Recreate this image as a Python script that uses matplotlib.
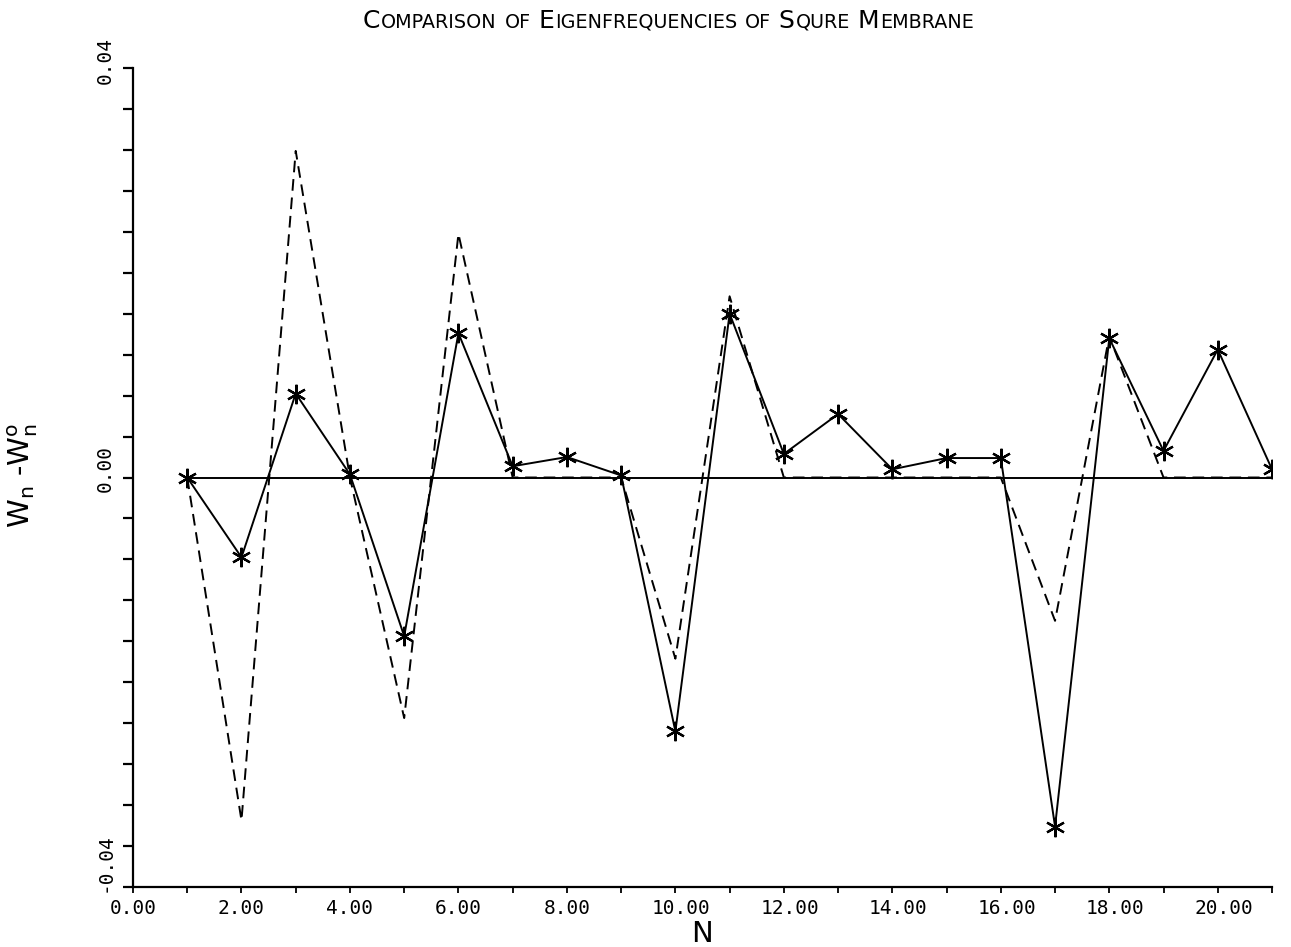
import numpy as np
import matplotlib
matplotlib.use("Agg")
import matplotlib.pyplot as plt
from matplotlib.ticker import MultipleLocator
from matplotlib.transforms import ScaledTranslation

# mode number
n = np.arange(1, 22)
# error of computed eigenfrequencies (solid, with stars)
err_solid = [0.0, -0.0078, 0.0082, 0.0003, -0.0155, 0.0141, 0.0011, 0.0020, 0.0002,
             -0.0248, 0.0160, 0.0023, 0.0062, 0.0008, 0.0019, 0.0019, -0.0341, 0.0136,
             0.0026, 0.0125, 0.0008]
# error of the second method (dashed)
err_dashed = [0.0, -0.0335, 0.0319, 0.0, -0.0235, 0.0238, 0.0, 0.0, 0.0,
              -0.0177, 0.0177, 0.0, 0.0, 0.0, 0.0, 0.0, -0.0140, 0.0138,
              0.0, 0.0, 0.0]
exact = [0.0] * 21

x_ticks = [0, 2, 4, 6, 8, 10, 12, 14, 16, 18, 20]
y_ticks = [-0.04, 0.0, 0.04]
title = "Comparison of Eigenfrequencies of Squre Membrane"

W, H = 1291, 947
fig = plt.figure(figsize=(W / 100, H / 100), dpi=100)
ax = fig.add_axes([133 / W, 1 - 887 / H, (1272 - 133) / W, (887 - 68) / H])

ax.plot(n, exact, color="black", lw=1.4)
ax.plot(n, err_dashed, color="black", lw=1.4, dashes=(6, 3.5))
ax.plot(n, err_solid, color="black", lw=1.4, marker=(6, 2, 0),
        markersize=14, markeredgewidth=1.6)

ax.set_xlim(0, 21)
ax.set_ylim(-0.04, 0.04)
for side in ("top", "right"):
    ax.spines[side].set_visible(False)
for side in ("left", "bottom"):
    ax.spines[side].set_linewidth(1.6)

mono = "DejaVu Sans Mono"
ax.set_xticks(x_ticks, [f"{v:.2f}" for v in x_ticks], family=mono, fontsize=14)
ax.xaxis.set_minor_locator(MultipleLocator(1))
ax.set_yticks(y_ticks, [f"{v:.2f}" for v in y_ticks], family=mono, fontsize=14)
ax.yaxis.set_minor_locator(MultipleLocator(0.004))
ax.tick_params(axis="x", which="both", direction="out", length=4.5, width=1.3, pad=4)
ax.tick_params(axis="y", which="both", direction="out", length=7.5, width=1.6, pad=6)

dx = ScaledTranslation(-17 / 72, 0, fig.dpi_scale_trans)
for lab in ax.get_xticklabels():
    lab.set_ha("left")
    lab.set_transform(lab.get_transform() + dx)
# rotated y labels sit a little above their ticks
lift = {"-0.04": 24, "0.00": 9, "0.04": 8}
for lab in ax.get_yticklabels():
    lab.set_rotation(90)
    lab.set_va("center")
    up = lift.get(lab.get_text(), 9)
    lab.set_transform(lab.get_transform() + ScaledTranslation(0, up / 100, fig.dpi_scale_trans))

ax.set_xlabel("N", fontsize=21)
ax.xaxis.set_label_coords(0.5, -0.040)
ax.set_ylabel(r"$\mathregular{W_n}$ -$\mathregular{W_n^o}$", fontsize=21)
ax.yaxis.set_label_coords(-0.082, 0.503)

# small-caps title built piece by piece
r = fig.canvas.get_renderer()
big, small = 18, 13.8
gap = small * 0.35 * fig.dpi / 72
pieces = []
x = 0.0
for i, word in enumerate(title.split()):
    if i:
        x += gap
    if word[0].isupper():
        parts = [(word[0], big), (word[1:].upper(), small)]
    else:
        parts = [(word.upper(), small)]
    for txt, sz in parts:
        t = fig.text(x / W, 1 - 28 / H, txt, fontsize=sz, va="baseline", ha="left")
        x += t.get_window_extent(r).width + 1
        pieces.append(t)
shift = 669 / W - x / 2 / W
for t in pieces:
    t.set_x(t.get_position()[0] + shift)

fig.savefig("out.png", dpi=100)
